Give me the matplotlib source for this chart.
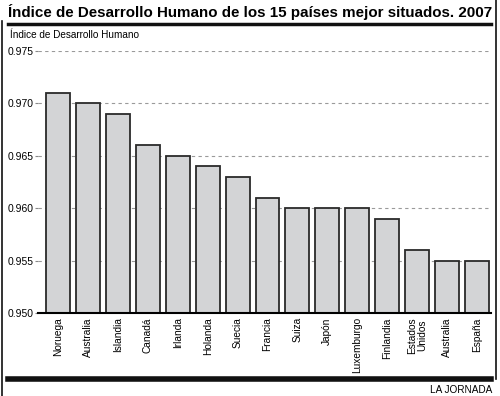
import matplotlib
matplotlib.use('Agg')
import matplotlib.pyplot as plt
from matplotlib.lines import Line2D

plt.rcParams['font.family'] = ['Liberation Sans', 'DejaVu Sans']

# Data ------------------------------------------------------------------------
paises = [
    'Noruega', 'Australia', 'Islandia', 'Canadá', 'Irlanda', 'Holanda',
    'Suecia', 'Francia', 'Suiza', 'Japón', 'Luxemburgo', 'Finlandia',
    'Estados\nUnidos', 'Australia', 'España'
]
idh = [
    0.971, 0.970, 0.969, 0.966, 0.965, 0.964, 0.963, 0.961,
    0.960, 0.960, 0.960, 0.959, 0.956, 0.955, 0.955
]
yTicks = [0.950, 0.955, 0.960, 0.965, 0.970, 0.975]
titulo = 'Índice de Desarrollo Humano de los 15 países mejor situados. 2007'
yLabel = 'Índice de Desarrollo Humano'
fuente = 'LA JORNADA'

###############################################################################
# Plot
###############################################################################
(W, H) = (500, 396)
fig = plt.figure(figsize=(W/100, H/100), dpi=100)
ax = fig.add_axes([38/W, 1-313/H, (491-38)/W, (313-51)/H])
x = list(range(len(paises)))
ax.bar(
    x, [v - 0.950 for v in idh], bottom=0.950, width=0.8,
    color='#d3d4d6', edgecolor='#2a2a2a', linewidth=1.3, zorder=3
)
ax.set_xlim(-0.67, 14.47)
ax.set_ylim(0.950, 0.975)
ax.set_yticks(yTicks)
ax.set_yticklabels(['{:.3f}'.format(t) for t in yTicks], fontsize=7.5)
ax.set_xticks(x)
ax.set_xticklabels(paises, rotation=90, fontsize=7.3, va='top', linespacing=0.95)
ax.tick_params(axis='x', length=0, pad=3)
ax.tick_params(axis='y', length=2.5, color='#888888', pad=1)
ax.yaxis.grid(True, ls=(0, (3, 3)), lw=0.8, color='#9a9a9a', zorder=0)
for s in ['top', 'right', 'left']:
    ax.spines[s].set_visible(False)
ax.spines['bottom'].set_linewidth(1.5)
ax.spines['bottom'].set_zorder(4)

# Texts -----------------------------------------------------------------------
tt = fig.text(8/W, 1-12/H, titulo, fontsize=12, fontweight='bold',
              va='center', ha='left')
# shrink title until it fits the 480 px the reference uses
rend = fig.canvas.get_renderer()
wTit = tt.get_window_extent(renderer=rend).width
tt.set_fontsize(12*480/wTit)
fig.text(10/W, 1-35/H, yLabel, fontsize=7.2, va='center', ha='left')
fig.text(492/W, 1-390/H, fuente, fontsize=7.2, va='center', ha='right')

# Frame rules -----------------------------------------------------------------
fig.add_artist(Line2D([8/W, 491/W], [1-23.5/H, 1-23.5/H], lw=2.5, color='#111111'))
fig.add_artist(Line2D([8/W, 491/W], [1-378.5/H, 1-378.5/H], lw=4, color='#111111'))
fig.add_artist(Line2D([1.5/W, 1.5/W], [1-21/H, 0], lw=1.2, color='#111111'))
fig.add_artist(Line2D([496/W, 496/W], [1, 1-379/H], lw=1.2, color='#111111'))

fig.savefig('out.png', dpi=100)
plt.close('all')
